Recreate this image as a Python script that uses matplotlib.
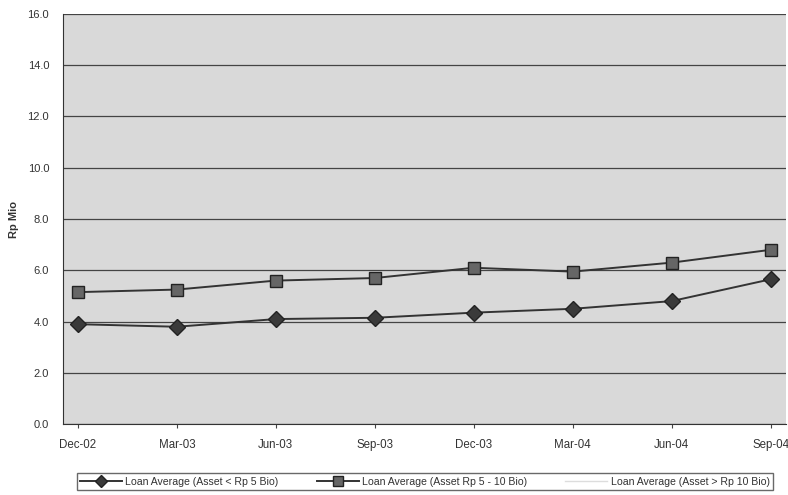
import matplotlib
matplotlib.use("Agg")
import matplotlib.pyplot as plt

# data
quarters = ["Dec-02", "Mar-03", "Jun-03", "Sep-03", "Dec-03", "Mar-04", "Jun-04", "Sep-04"]
small_assets = [3.9, 3.8, 4.1, 4.15, 4.35, 4.5, 4.8, 5.65]      # Asset < Rp 5 Bio
mid_assets = [5.15, 5.25, 5.6, 5.7, 6.1, 5.95, 6.3, 6.8]        # Asset Rp 5 - 10 Bio
large_assets = []                                             # Asset > Rp 10 Bio (not visible in scan)

plt.rcParams["font.family"] = ["Liberation Sans", "DejaVu Sans"]

fig = plt.figure(figsize=(7.88, 4.95), dpi=100)
ax = fig.add_axes([0.08, 0.143, 0.918, 0.829])
ax.set_facecolor("#d9d9d9")

x = list(range(len(quarters)))
ax.plot(x, small_assets, color="#333333", lw=1.4, marker="D", ms=8,
        mfc="#3a3a3a", mec="#222222", label="Loan Average (Asset < Rp 5 Bio)")
ax.plot(x, mid_assets, color="#333333", lw=1.4, marker="s", ms=9,
        mfc="#666666", mec="#222222", label="Loan Average (Asset Rp 5 - 10 Bio)")
ax.plot(x[:len(large_assets)], large_assets, color="#dddddd", lw=1.0,
        label="Loan Average (Asset > Rp 10 Bio)")

ax.set_xlim(-0.15, 7.16)
ax.set_ylim(0, 16)
ax.set_yticks([0, 2, 4, 6, 8, 10, 12, 14, 16])
ax.set_yticklabels([f"{v:.1f}" for v in range(0, 17, 2)], fontsize=8, color="#333333")
ax.set_xticks(x)
ax.set_xticklabels(quarters, fontsize=8.3, color="#333333")
ax.tick_params(axis="y", length=0, pad=10)
ax.tick_params(axis="x", length=3, pad=8, color="#444444")
ax.grid(axis="y", color="#444444", lw=0.9)
ax.set_axisbelow(True)
for side in ["top", "right"]:
    ax.spines[side].set_visible(False)
ax.spines["left"].set_color("#333333")
ax.spines["bottom"].set_color("#333333")
ax.set_ylabel("Rp Mio", fontsize=8, fontweight="bold", color="#333333", labelpad=6)

leg = fig.legend(loc="lower center", bbox_to_anchor=(0.539, 0.0), ncol=3,
                 fontsize=7.6, frameon=True, fancybox=False, edgecolor="#444444",
                 handlelength=4, handletextpad=0.3, columnspacing=3.6, borderpad=0.3,
                 markerscale=0.75)
for t in leg.get_texts():
    t.set_color("#333333")

fig.savefig("out.png", dpi=100)
